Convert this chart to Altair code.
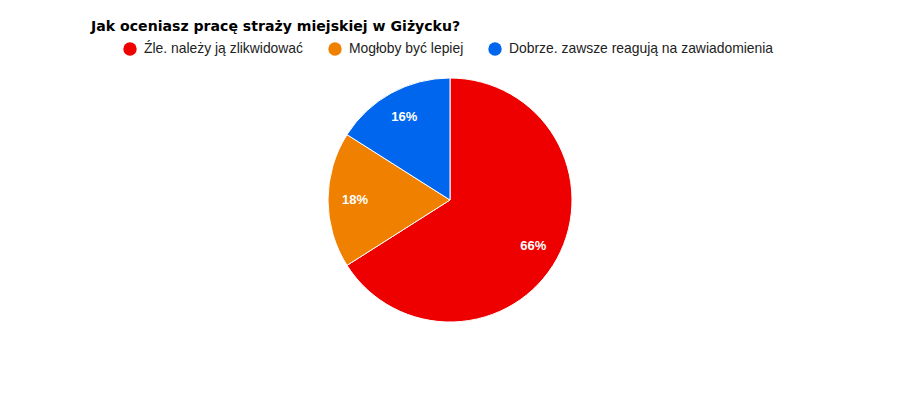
import altair as alt
import pandas as pd

labels = ["Źle. należy ją zlikwidować", "Mogłoby być lepiej", "Dobrze. zawsze reagują na zawiadomienia"]
values = [66, 18, 16]
colors = ["#ee0000", "#f08000", "#0066ee"]
order = [0, 1, 2]

df = pd.DataFrame({"label": labels, "value": values, "ord": order})
df["pct"] = df["value"].astype(str) + "%"

FONT = "Liberation Sans"
CX, CY = 442, 132

color = alt.Color(
    "label:N",
    scale=alt.Scale(domain=labels, range=colors),
    legend=alt.Legend(
        title=None,
        orient="none",
        direction="horizontal",
        legendX=115,
        legendY=-26,
        symbolType="circle",
        symbolSize=180,
        symbolStrokeWidth=0,
        labelFont=FONT,
        labelFontSize=13.9,
        labelColor="#222222",
        labelOffset=7,
        columnPadding=24,
        labelLimit=400,
    ),
)

base = alt.Chart(df).encode(
    theta=alt.Theta("value:Q", stack=True),
    order=alt.Order("ord:Q"),
)

pie = base.mark_arc(outerRadius=122, stroke="white", strokeWidth=1).encode(
    color=color,
    x=alt.value(CX),
    y=alt.value(CY),
)

text = base.mark_text(
    radius=95, font=FONT, fontSize=13, fontWeight="bold", fill="white"
).encode(
    text="pct:N",
    x=alt.value(CX),
    y=alt.value(CY),
)

chart = (
    alt.layer(pie, text)
    .properties(
        width=884,
        height=324,
        padding={"left": 0, "top": 60, "right": 0, "bottom": 0},
        autosize=alt.AutoSizeParams(type="none"),
        title=alt.TitleParams(
            "Jak oceniasz pracę straży miejskiej w Giżycku?",
            anchor="start",
            frame="group",
            dx=83,
            offset=8,
            font="DejaVu Sans",
            fontSize=14.1,
            fontWeight="bold",
            color="#000000",
        ),
    )
    .configure_view(stroke=None)
)

chart.save("out.html", embed_options={"renderer": "svg", "actions": False})
